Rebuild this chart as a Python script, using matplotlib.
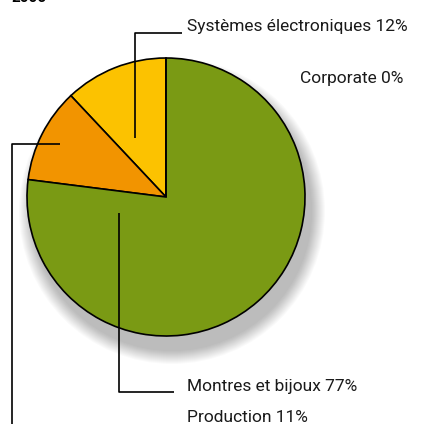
import matplotlib.pyplot as plt
from matplotlib.patches import Circle

# Segment data
segments = ["Systèmes électroniques", "Production", "Montres et bijoux", "Corporate"]
shares = [12, 11, 77, 0]
colors = ["#fcc200", "#f29400", "#7a9a14", "#ffffff"]
year = "2006"

family = ["Roboto", "DejaVu Sans"]

W, H = 435, 424
fig = plt.figure(figsize=(W / 100, H / 100), dpi=100)
ax = fig.add_axes([0, 0, 1, 1])

def py(y):
    # convert pixel row (from top) to data y
    return H - y

cx, cy, r = 166, py(197), 139

# soft shadow under the pie
for i in range(14):
    ax.add_patch(Circle((cx + 6, cy - 14), r + 14 - i, color="black",
                        alpha=0.02, lw=0, zorder=1))

ax.pie(shares, colors=colors, startangle=90, counterclock=True,
       center=(cx, cy), radius=r, frame=True,
       wedgeprops=dict(edgecolor="black", linewidth=1.2, zorder=2))
ax.set_xlim(0, W)
ax.set_ylim(0, H)
ax.set_aspect("equal")
ax.axis("off")

lk = dict(color="black", lw=1.2, zorder=3, solid_capstyle="butt")
tk = dict(fontsize=12.5, family=family, color="#1a1a1a", va="center", zorder=4)

# Systèmes électroniques
ax.plot([135, 135, 182], [py(138), py(33), py(33)], **lk)
ax.text(187, py(27), f"{segments[0]} {shares[0]}%", **tk)
# Corporate
ax.text(300, py(78), f"{segments[3]} {shares[3]}%", **tk)
# Montres et bijoux
ax.plot([119, 119, 174], [py(213), py(392), py(392)], **lk)
ax.text(187, py(387), f"{segments[2]} {shares[2]}%", **tk)
# Production
ax.plot([60, 12, 12], [py(144), py(144), py(430)], **lk)
ax.text(187, py(417), f"{segments[1]} {shares[1]}%", **tk)

# clipped title
ax.text(12, py(-2), year, fontsize=11, fontweight="bold", family=family,
        va="center", color="black")

fig.savefig("out.png", dpi=100)
